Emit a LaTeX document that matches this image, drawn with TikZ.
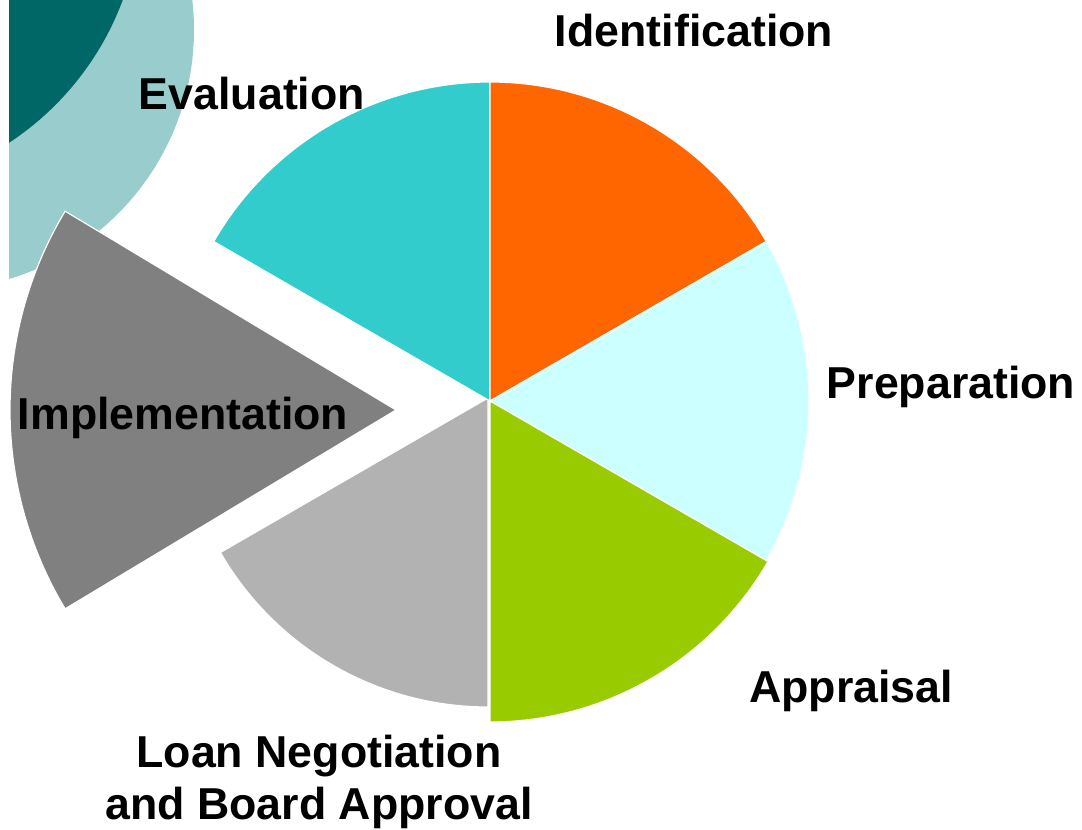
\documentclass[tikz,border=0pt]{standalone}
\usepackage{fontspec}
\setmainfont{Liberation Sans}
\definecolor{ringlight}{HTML}{99CCCC}
\definecolor{ringdark}{HTML}{006666}
\definecolor{evalcol}{HTML}{33CCCC}
\definecolor{identcol}{HTML}{FF6600}
\definecolor{prepcol}{HTML}{CCFFFF}
\definecolor{apprcol}{HTML}{99CC00}
\definecolor{loancol}{HTML}{B2B2B2}
\definecolor{implcol}{HTML}{808080}
\tikzset{
	slice/.style={draw=white, line width=0.6pt},
	lbl/.style={font=\fontsize{22.35}{26}\selectfont\bfseries, inner sep=0pt, anchor=base, align=center}
}

\begin{document}
\begin{tikzpicture}[x=0.5pt, y=0.5pt]
		\useasboundingbox (0,0) rectangle (1082,830);
		\begin{scope}
			\clip (9,0) rectangle (1082,830);
			\fill [ringlight] (-66,800) circle (260);
			\fill [ringdark] (-152,932) circle (293);
		\end{scope}
		\coordinate (O) at (490,429);
		\filldraw [slice, fill=loancol] (488,432) -- ++(270:309) arc[start angle=270, end angle=210, radius=309] -- cycle;
		\filldraw [slice, fill=evalcol] (O) -- ++(150:319) arc[start angle=150, end angle=90, radius=319] -- cycle;
		\filldraw [slice, fill=identcol] (O) -- ++(90:319) arc[start angle=90, end angle=30, radius=319] -- cycle;
		\filldraw [slice, fill=prepcol] (O) -- ++(30:319) arc[start angle=30, end angle=-30, radius=319] -- cycle;
		\filldraw [slice, fill=apprcol] (O) -- ++(-30:321) arc[start angle=-30, end angle=-90, radius=321] -- cycle;
		\filldraw [slice, fill=implcol] (396,420) -- ++(211:386) arc[start angle=211, end angle=149, radius=386] -- cycle;
		\node [lbl] (ident) at (694,783) {Identification};
		\node [lbl] (eval) at (252,720) {Evaluation};
		\node [lbl] (prep) at (951,431) {Preparation};
		\node [lbl] (impl) at (183,400) {Implementation};
		\node [lbl] (appr) at (851,127) {Appraisal};
		\node [lbl] (loan) at (319,10) {Loan Negotiation\\and Board Approval};
	\end{tikzpicture}
\end{document}
